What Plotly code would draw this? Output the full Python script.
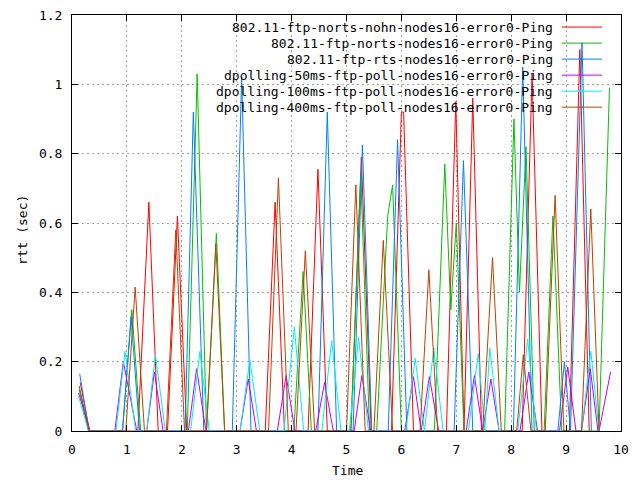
import plotly.graph_objects as go

# ---- data (time in s, rtt in s), vertices ----
red_t = [0.15, 0.32, 1.20, 1.40, 1.57, 1.74, 1.92, 2.09, 3.52, 3.70, 3.87, 4.30, 4.48, 4.65,
         5.08, 5.27, 5.45, 5.82, 6.00, 6.04, 6.22, 6.82, 6.99, 7.14, 7.30, 7.46, 8.20, 8.38, 8.56,
         9.06, 9.25, 9.42]
red_v = [0.14, 0, 0, 0.66, 0, 0, 0.62, 0, 0, 0.66, 0, 0, 0.755, 0,
         0, 0.79, 0, 0, 0.92, 0.92, 0, 0, 0.95, 0, 0.96, 0, 0, 1.03, 0,
         0, 1.10, 0]

green_t = [0.13, 0.30, 0.92, 1.09, 1.25, 2.10, 2.28, 2.45, 2.63, 2.78, 4.04, 4.21, 4.36,
           5.08, 5.26, 5.42, 5.55, 5.75, 5.84, 6.00, 6.60, 6.79, 6.90, 7.00, 7.14,
           7.88, 8.05, 8.15, 8.27, 8.42, 8.60, 8.76, 8.92, 9.60, 9.79]
green_v = [0.12, 0, 0, 0.35, 0, 0, 1.03, 0, 0.57, 0, 0, 0.46, 0,
           0, 0.74, 0, 0, 0.62, 0.71, 0, 0, 0.77, 0.35, 0.60, 0,
           0, 0.90, 0.40, 0.82, 0, 0, 0.62, 0, 0, 0.99]

blue_t = [0.14, 0.31, 0.92, 1.075, 1.23, 2.06, 2.21, 2.40, 2.92, 3.09, 3.26, 4.48, 4.65, 4.82,
          5.12, 5.29, 5.46, 5.76, 5.93, 6.10, 6.96, 7.13, 7.30, 8.04, 8.21, 8.38,
          8.85, 8.97, 9.08, 9.29, 9.46]
blue_v = [0.165, 0, 0, 0.33, 0, 0, 0.92, 0, 0, 1.02, 0, 0, 0.92, 0,
          0, 0.825, 0, 0, 0.84, 0, 0, 0.78, 0, 0, 1.05, 0,
          0, 0.20, 0, 1.12, 0]

purple_t = [0.12, 0.33, 0.78, 0.935, 1.18, 1.36, 1.50, 1.66, 2.12, 2.27, 2.44, 3.06, 3.21, 3.36,
            3.74, 3.90, 4.06, 4.44, 4.60, 4.76, 5.14, 5.28, 5.44, 6.06, 6.22, 6.36, 6.51, 6.68,
            7.18, 7.33, 7.48, 7.63, 7.78, 8.16, 8.32, 8.48, 8.88, 9.03, 9.18, 9.28, 9.44, 9.58,
            9.60, 9.81]
purple_v = [0.11, 0, 0, 0.20, 0, 0, 0.17, 0, 0, 0.18, 0, 0, 0.15, 0,
            0, 0.16, 0, 0, 0.14, 0, 0, 0.16, 0, 0, 0.157, 0, 0.157, 0,
            0, 0.16, 0, 0.15, 0, 0, 0.17, 0, 0, 0.185, 0, 0, 0.18, 0,
            0, 0.17]

cyan_t = [0.12, 0.30, 0.80, 0.965, 1.16, 1.36, 1.52, 1.70, 2.16, 2.33, 2.50, 3.06, 3.24, 3.42,
          3.86, 4.05, 4.22, 4.55, 4.73, 4.90, 5.05, 5.22, 5.40, 6.08, 6.25, 6.42, 6.59, 6.76,
          7.22, 7.40, 7.52, 7.61, 7.78, 8.12, 8.30, 8.46, 9.28, 9.45, 9.60]
cyan_v = [0.10, 0, 0, 0.23, 0, 0, 0.22, 0, 0, 0.23, 0, 0, 0.205, 0,
          0, 0.30, 0, 0, 0.26, 0, 0, 0.27, 0, 0, 0.21, 0, 0.24, 0,
          0, 0.224, 0, 0.24, 0, 0, 0.265, 0, 0, 0.23, 0]

brown_t = [0.13, 0.31, 0.98, 1.15, 1.32, 1.72, 1.89, 2.05, 2.45, 2.62, 2.78, 3.58, 3.76, 3.94,
           4.08, 4.25, 4.42, 5.00, 5.17, 5.34, 5.50, 5.67, 5.84, 6.34, 6.50, 6.66,
           7.48, 7.66, 7.82, 8.10, 8.22, 8.36, 8.62, 8.80, 8.96, 9.28, 9.45, 9.60]
brown_v = [0.13, 0, 0, 0.415, 0, 0, 0.58, 0, 0, 0.54, 0, 0, 0.73, 0,
           0, 0.52, 0, 0, 0.71, 0, 0, 0.55, 0, 0, 0.465, 0,
           0, 0.50, 0, 0, 0.22, 0, 0, 0.68, 0, 0, 0.64, 0]

series_names = [
    "802.11-ftp-norts-nohn-nodes16-error0-Ping",
    "802.11-ftp-norts-nodes16-error0-Ping",
    "802.11-ftp-rts-nodes16-error0-Ping",
    "dpolling-50ms-ftp-poll-nodes16-error0-Ping",
    "dpolling-100ms-ftp-poll-nodes16-error0-Ping",
    "dpolling-400ms-ftp-poll-nodes16-error0-Ping",
]
series_colors = ["#ff0000", "#00c000", "#0080ff", "#c000ff", "#00eeee", "#c04000"]
series_t = [red_t, green_t, blue_t, purple_t, cyan_t, brown_t]
series_v = [red_v, green_v, blue_v, purple_v, cyan_v, brown_v]

x_ticks = [0, 1, 2, 3, 4, 5, 6, 7, 8, 9, 10]
y_ticks = [0, 0.2, 0.4, 0.6, 0.8, 1.0, 1.2]
y_tick_text = ["0", "0.2", "0.4", "0.6", "0.8", "1", "1.2"]
x_title = "Time"
y_title = "rtt (sec)"

FONT = "DejaVu Sans Mono"

fig = go.Figure()
for name, col, t, v in zip(series_names, series_colors, series_t, series_v):
    fig.add_trace(go.Scatter(x=t, y=v, mode="lines", name=name,
                             line=dict(color=col, width=1), showlegend=False,
                             hoverinfo="skip"))

# gnuplot-style legend: right-aligned text with line sample at the right
leg_text_x = 0.880
leg_line_x0, leg_line_x1 = 0.8925, 0.9654
leg_y0, leg_dy = 0.971, 0.0385
for i, (name, col) in enumerate(zip(series_names, series_colors)):
    y = leg_y0 - i * leg_dy
    fig.add_annotation(x=leg_text_x, y=y, xref="paper", yref="paper", text=name,
                       showarrow=False, xanchor="right", yanchor="middle",
                       font=dict(family=FONT, size=13, color="black"))
    fig.add_shape(type="line", xref="paper", yref="paper", x0=leg_line_x0, x1=leg_line_x1,
                  y0=y, y1=y, line=dict(color=col, width=1))

# axis titles
fig.add_annotation(x=0.501, y=-0.094, xref="paper", yref="paper", text=x_title,
                   showarrow=False, xanchor="center", yanchor="middle",
                   font=dict(family=FONT, size=13, color="black"))
fig.add_annotation(x=-0.091, y=0.483, xref="paper", yref="paper", text=y_title,
                   showarrow=False, xanchor="center", yanchor="middle", textangle=-90,
                   font=dict(family=FONT, size=13, color="black"))

axis_common = dict(showline=True, linecolor="black", linewidth=1, mirror="ticks",
                   ticks="inside", ticklen=6, tickcolor="black", tickwidth=1,
                   showgrid=True, gridcolor="#a0a0a0", gridwidth=1, griddash="2px,3px",
                   zeroline=False, automargin=False,
                   tickfont=dict(family=FONT, size=13, color="black"))

fig.update_xaxes(range=[0, 10], tickvals=x_ticks, ticktext=[str(v) for v in x_ticks],
                 ticklabelstandoff=6, **axis_common)
fig.update_yaxes(range=[0, 1.2], tickvals=y_ticks, ticktext=y_tick_text,
                 ticklabelstandoff=6, **axis_common)

fig.update_layout(width=640, height=480, margin=dict(l=72, r=19, t=15, b=49, pad=0),
                  plot_bgcolor="white", paper_bgcolor="white", showlegend=False,
                  font=dict(family=FONT, size=13, color="black"))

fig.write_html("out.html", config={"displayModeBar": False},
               post_script="document.body.style.margin='0';")
